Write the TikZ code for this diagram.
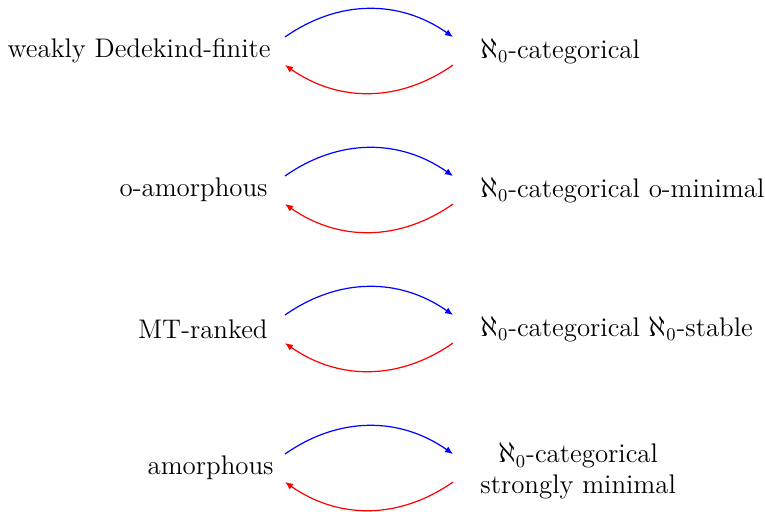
\documentclass[tikz,border=0pt]{standalone}
\usepackage{tikz}
\usetikzlibrary{arrows.meta,positioning}
\definecolor{fwdblue}{HTML}{0000FF}
\definecolor{backred}{HTML}{FF0000}
\tikzset{
  lhs/.style={anchor=east, inner xsep=7pt, inner ysep=0pt,
              font=\fontsize{13.45}{15.5}\selectfont},
  rhs/.style={anchor=west, inner xsep=13.5pt, inner ysep=0pt, align=center,
              font=\fontsize{13.45}{15.5}\selectfont},
  fwd/.style={-{Latex[length=4pt,width=3.4pt]}, semithick, draw=fwdblue, bend left=35},
  back/.style={-{Latex[length=4pt,width=3.4pt]}, semithick, draw=backred, bend left=35}
}
\begin{document}
\begin{tikzpicture}[x=0.5pt,y=-0.5pt]
  \path[use as bounding box] (0,0) rectangle (765,511);
  % left column
  \node[lhs] (wdf) at (285,51) {weakly Dedekind-finite};
  \node[lhs] (oam) at (282,190) {o-amorphous};
  \node[lhs] (mtr) at (282,329) {MT-ranked};
  \node[lhs] (amo) at (288,468) {amorphous};
  % right column
  \node[rhs] (cat) at (453,51) {$\aleph_0$-categorical};
  \node[rhs] (omin) at (453,190) {$\aleph_0$-categorical o-minimal};
  \node[rhs] (stab) at (453,329) {$\aleph_0$-categorical $\aleph_0$-stable};
  \node[rhs] (smin) at (453,471) {$\aleph_0$-categorical\\strongly minimal};
  % arrows
  \draw[fwd] ([yshift=7pt]wdf.east) to ([yshift=7pt]cat.west);
  \draw[back] ([yshift=-7pt]cat.west) to ([yshift=-7pt]wdf.east);
  \foreach \a/\b in {oam/omin, mtr/stab} {
    \draw[fwd] ([xshift=1.5pt,yshift=7pt]\a.east) to ([yshift=7pt]\b.west);
    \draw[back] ([yshift=-7pt]\b.west) to ([xshift=1.5pt,yshift=-7pt]\a.east);
  }
  \draw[fwd] ([xshift=-1.5pt,yshift=7pt]amo.east) to ([yshift=7pt]smin.west|-amo.east);
  \draw[back] ([yshift=-7pt]smin.west|-amo.east) to ([xshift=-1.5pt,yshift=-7pt]amo.east);
\end{tikzpicture}
\end{document}
